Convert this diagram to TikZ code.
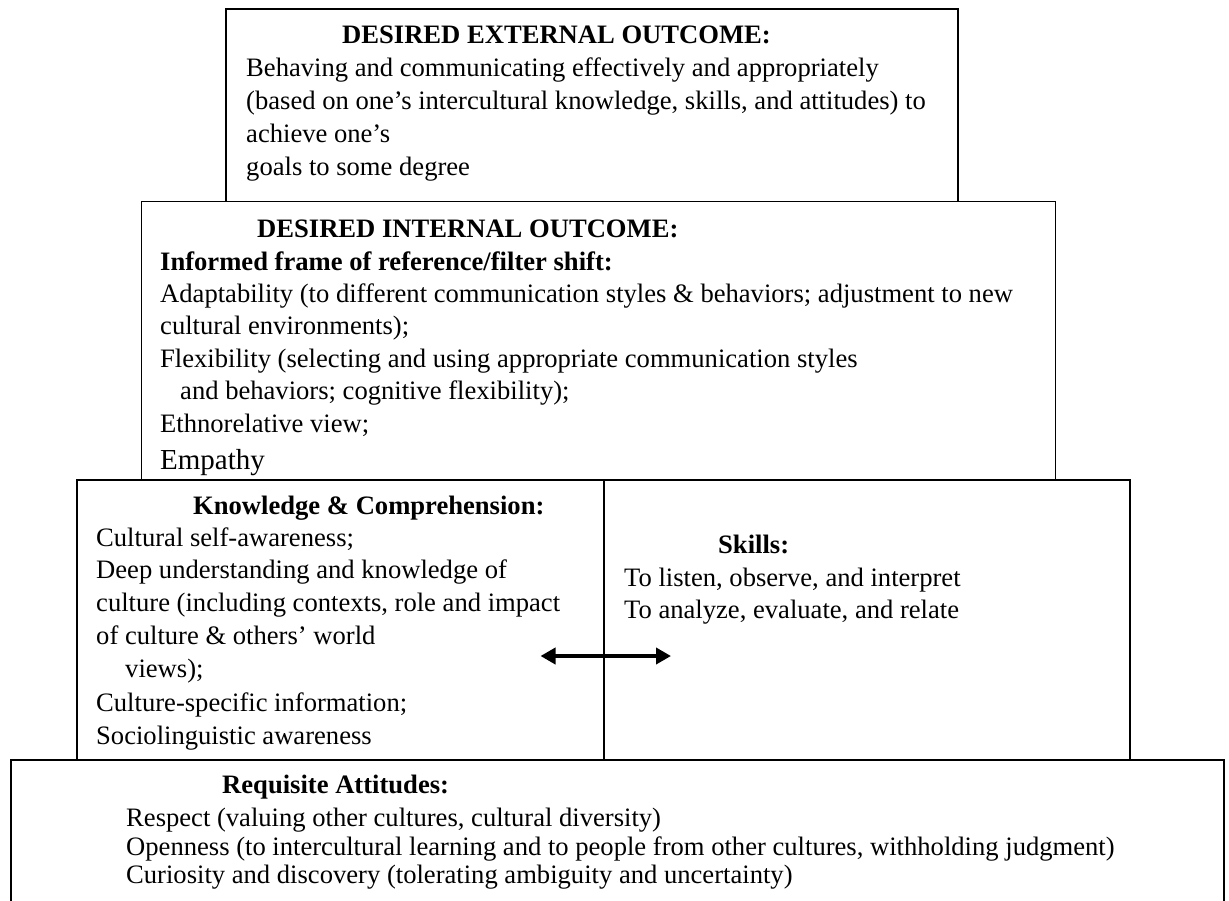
\documentclass[tikz,border=0pt]{standalone}
\usepackage{fontspec}
\setmainfont{Liberation Serif}
\usetikzlibrary{arrows.meta}
\begin{document}
\begin{tikzpicture}[x=1pt,y=-1pt,
  box/.style={draw=black, line width=1.9pt, fill=white, inner sep=0pt, anchor=north west},
  txt/.style={anchor=base west, inner sep=0pt, font=\fontsize{26.6}{33}\selectfont},
  ttl/.style={anchor=base west, inner sep=0pt, font=\fontsize{26.6}{33}\selectfont\bfseries},
  big/.style={anchor=base west, inner sep=0pt, font=\fontsize{29}{35}\selectfont},
  dbl/.style={line width=4.2pt, {Triangle[length=15pt,width=16pt]}-{Triangle[length=15pt,width=16pt]}}]
\useasboundingbox (0,0) rectangle (1229,900);
% boxes
\node[box, minimum width=732pt, minimum height=192.5pt] (ext) at (225,8) {};
\node[box, minimum width=914pt, minimum height=278.5pt] (int) at (140.5,200.5) {};
\node[box, minimum width=1213pt, minimum height=170pt] (att) at (10,759) {};
\node[box, minimum width=527pt, minimum height=280pt] (know) at (76,479) {};
\node[box, minimum width=526pt, minimum height=280pt] (skill) at (603,479) {};
% external outcome
\node[ttl] (e0) at (342,43) {DESIRED EXTERNAL OUTCOME:};
\node[txt] (e1) at (246,76) {Behaving and communicating effectively and appropriately};
\node[txt] (e2) at (246,109) {(based on one’s intercultural knowledge, skills, and attitudes) to};
\node[txt] (e3) at (246,142) {achieve one’s};
\node[txt] (e4) at (246,175) {goals to some degree};
% internal outcome
\node[ttl] (i0) at (257,237) {DESIRED INTERNAL OUTCOME:};
\node[ttl] (i1) at (160,270) {Informed frame of reference/filter shift:};
\node[txt] (i2) at (160,302) {Adaptability (to different communication styles \& behaviors; adjustment to new};
\node[txt] (i3) at (160,334) {cultural environments);};
\node[txt] (i4) at (160,367) {Flexibility (selecting and using appropriate communication styles};
\node[txt] (i5) at (180,399) {and behaviors; cognitive flexibility);};
\node[txt] (i6) at (160,432) {Ethnorelative view;};
\node[big] (i7) at (160,469) {Empathy};
% knowledge
\node[ttl] (k0) at (193,514) {Knowledge \& Comprehension:};
\node[txt] (k1) at (96,546) {Cultural self-awareness;};
\node[txt] (k2) at (96,578) {Deep understanding and knowledge of};
\node[txt] (k3) at (96,611) {culture (including contexts, role and impact};
\node[txt] (k4) at (96,644) {of culture \& others’ world};
\node[txt] (k5) at (125,677) {views);};
\node[txt] (k6) at (96,711) {Culture-specific information;};
\node[txt] (k7) at (96,744) {Sociolinguistic awareness};
% skills
\node[ttl] (s0) at (718,553) {Skills:};
\node[txt] (s1) at (624,586) {To listen, observe, and interpret};
\node[txt] (s2) at (624,618) {To analyze, evaluate, and relate};
% attitudes
\node[ttl] (a0) at (222,793) {Requisite Attitudes:};
\node[txt] (a1) at (126,826) {Respect (valuing other cultures, cultural diversity)};
\node[txt] (a2) at (126,855) {Openness (to intercultural learning and to people from other cultures, withholding judgment)};
\node[txt] (a3) at (126,883) {Curiosity and discovery (tolerating ambiguity and uncertainty)};
% arrow
\coordinate (al) at (540.5,656);
\coordinate (ar) at (671,656);
\draw[dbl] (al) -- (ar);
\end{tikzpicture}
\end{document}
